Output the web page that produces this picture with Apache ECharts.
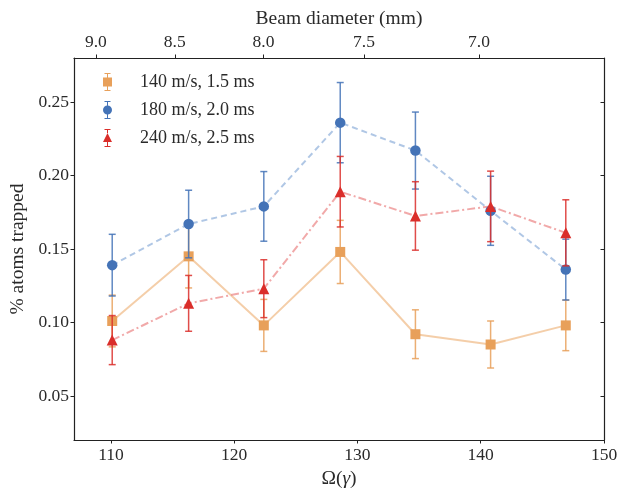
<!DOCTYPE html>
<html>
<head>
<meta charset="utf-8">
<script src="https://cdn.jsdelivr.net/npm/echarts@6/dist/echarts.min.js"></script>
<style>html,body{margin:0;padding:0;background:#fff;}#c{width:618px;height:489px;}</style>
</head>
<body>
<div id="c"></div>
<script>
// ---- data ----
const omega = [110.1, 116.3, 122.4, 128.6, 134.7, 140.8, 146.9];
const names = ['140 m/s, 1.5 ms', '180 m/s, 2.0 ms', '240 m/s, 2.5 ms'];
const s140 = [0.101, 0.145, 0.098, 0.148, 0.092, 0.085, 0.098];
const s140Err = [0.0176, 0.0215, 0.0177, 0.0215, 0.0166, 0.016, 0.0172];
const s180 = [0.139, 0.167, 0.179, 0.236, 0.217, 0.176, 0.136];
const s180Err = [0.021, 0.023, 0.0237, 0.0273, 0.0262, 0.0235, 0.0207];
const s240 = [0.088, 0.113, 0.123, 0.189, 0.1725, 0.179, 0.161];
const s240Err = [0.0167, 0.019, 0.0197, 0.024, 0.0233, 0.024, 0.0225];
const xTicks = [110, 120, 130, 140, 150];
const yTicks = [0.05, 0.10, 0.15, 0.20, 0.25];
const beamTicks = [9.0, 8.5, 8.0, 7.5, 7.0];
const beamK = 979; // Omega = beamK / diameter

// ---- styles ----
const FONT = 'Liberation Serif';
const colors = ['#E8A05A', '#4473B7', '#DA2E2A'];
const errColors = ['rgba(232,160,90,0.85)', 'rgba(68,115,183,0.85)', 'rgba(218,46,42,0.85)'];
const lineColors = ['rgba(240,190,140,0.75)', 'rgba(150,180,220,0.75)', 'rgba(236,140,140,0.75)'];
const lineTypes = ['solid', [6, 4], [8, 3, 2, 3]];
const symbols = ['rect', 'circle', 'triangle'];
const symSizes = [10, 10.5, 11];
const legendIcons = [
  'path://M1.5 0h6v1h-6zM4 1h1v3.5h-1zM0 4.5h9v9h-9zM4 13.5h1v3.5h-1zM1.5 17h6v1h-6z',
  'path://M1.5 0h6v1h-6zM4 1h1v3.5h-1zM0 9A4.5 4.5 0 1 1 9 9A4.5 4.5 0 1 1 0 9ZM4 13.5h1v3.5h-1zM1.5 17h6v1h-6z',
  'path://M1.5 0h6v1h-6zM4 1h1v3h-1zM4.5 4L9 13L0 13ZM4 13h1v4h-1zM1.5 17h6v1h-6z'
];
const allVals = [s140, s180, s240];
const allErrs = [s140Err, s180Err, s240Err];

const series = [];
// connecting lines
for (let i = 0; i < 3; i++) {
  series.push({
    type: 'line', name: 'line' + i, data: omega.map((x, k) => [x, allVals[i][k]]),
    symbol: 'none', silent: true, z: 2,
    lineStyle: { color: lineColors[i], width: 2, type: lineTypes[i] }
  });
}
for (let i = 0; i < 3; i++) {
  const ec = errColors[i];
  series.push({
    type: 'custom', name: 'err' + i, z: 3 + i * 2,
    data: omega.map((x, k) => [x, allVals[i][k], allErrs[i][k]]),
    encode: { x: 0, y: 1 },
    renderItem: function (params, api) {
      const x = api.value(0), y = api.value(1), e = api.value(2);
      const t = api.coord([x, y + e]), b = api.coord([x, y - e]);
      const hw = 3.5;
      const st = { stroke: ec, lineWidth: 1.5 };
      return {
        type: 'group', children: [
          { type: 'line', shape: { x1: t[0], y1: t[1], x2: b[0], y2: b[1] }, style: st },
          { type: 'line', shape: { x1: t[0] - hw, y1: t[1], x2: t[0] + hw, y2: t[1] }, style: st },
          { type: 'line', shape: { x1: b[0] - hw, y1: b[1], x2: b[0] + hw, y2: b[1] }, style: st }
        ]
      };
    }
  });
  series.push({
    type: 'scatter', name: names[i], z: 4 + i * 2,
    data: omega.map((x, k) => [x, allVals[i][k]]),
    symbol: symbols[i], symbolSize: symSizes[i],
    itemStyle: { color: colors[i], opacity: 1 }
  });
}

const axisLineStyle = { color: '#222', width: 1.2 };
const labelStyle = { fontFamily: FONT, fontSize: 17.5, color: '#2a2a2a' };
const nameStyle = { fontFamily: FONT, fontSize: 19.5, color: '#2a2a2a' };

const option = {
  animation: false,
  backgroundColor: '#fff',
  grid: { left: 74, right: 14, top: 58, bottom: 49, containLabel: false, outerBoundsMode: 'none' },
  legend: {
    data: names.map((n, i) => ({ name: n, icon: legendIcons[i] })),
    orient: 'vertical', left: 103, top: 73, padding: 0,
    itemWidth: 9, itemHeight: 18, itemGap: 10,
    textStyle: { fontFamily: FONT, fontSize: 18, color: '#2a2a2a', padding: [0, 0, 0, 23] }
  },
  xAxis: [
    {
      type: 'value', position: 'bottom', min: 107, max: 150,
      name: '{a|Ω(}{b|γ}{a|)}', nameLocation: 'middle', nameGap: 28,
      nameTextStyle: { rich: { a: nameStyle, b: Object.assign({ fontStyle: 'italic' }, nameStyle) } },
      axisLine: { lineStyle: axisLineStyle },
      axisTick: { show: true, inside: false, length: 3.5, customValues: xTicks, lineStyle: { color: '#222' } },
      axisLabel: Object.assign({ customValues: xTicks, margin: 6 }, labelStyle),
      splitLine: { show: false }
    },
    {
      type: 'value', position: 'top', min: 107, max: 150,
      name: 'Beam diameter (mm)', nameLocation: 'middle', nameGap: 28,
      nameTextStyle: nameStyle,
      axisLine: { lineStyle: axisLineStyle },
      axisTick: { show: true, inside: false, length: 3.5, customValues: beamTicks.map(d => beamK / d), lineStyle: { color: '#222' } },
      axisLabel: Object.assign({
        customValues: beamTicks.map(d => beamK / d), margin: 6.5,
        formatter: v => (beamK / v).toFixed(1)
      }, labelStyle),
      splitLine: { show: false }
    }
  ],
  yAxis: [
    {
      type: 'value', position: 'left', min: 0.02, max: 0.28,
      name: '% atoms trapped', nameLocation: 'middle', nameGap: 46, nameRotate: 90,
      nameTextStyle: nameStyle,
      axisLine: { show: true, lineStyle: axisLineStyle },
      axisTick: { show: true, inside: false, length: 3.5, customValues: yTicks, lineStyle: { color: '#222' } },
      axisLabel: Object.assign({ customValues: yTicks, margin: 5, formatter: v => v.toFixed(2) }, labelStyle),
      splitLine: { show: false }
    },
    {
      type: 'value', position: 'right', min: 0.02, max: 0.28,
      axisLine: { show: true, lineStyle: axisLineStyle },
      axisTick: { show: true, inside: true, length: 3.5, customValues: yTicks, lineStyle: { color: '#222' } },
      axisLabel: { show: false },
      splitLine: { show: false }
    }
  ],
  series: series
};
const chart = echarts.init(document.getElementById('c'), null, { renderer: 'canvas' });
chart.setOption(option);
</script>
</body>
</html>
